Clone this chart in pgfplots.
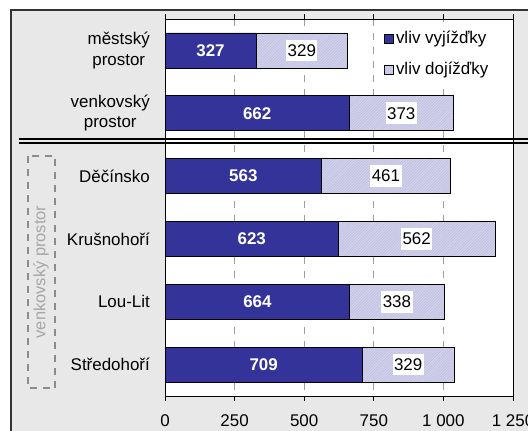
\documentclass[border=0pt]{standalone}
\usepackage{fontspec}
\setmainfont{Liberation Sans}
\usepackage{pgfplots}
\pgfplotsset{compat=1.18}
\usepackage{pgfplotstable}
\usetikzlibrary{patterns.meta}
\definecolor{barblue}{HTML}{333399}
\definecolor{hatchfill}{HTML}{D2D2EC}
\definecolor{hatchline}{HTML}{BCBCDE}
\definecolor{bggray}{HTML}{E8E8E8}
\pgfplotstableread{
y a b
0 327 329
1 662 373
2 563 461
3 623 562
4 664 338
5 709 329
}\data
\begin{document}
\fontsize{17}{20.5}\selectfont
\begin{tikzpicture}[x=1bp,y=1bp]
\path[use as bounding box] (0,0) rectangle (528,430);
\fill[white] (0,0) rectangle (528,430);
\filldraw[fill=bggray, draw=black!80, line width=2bp] (11,-20) rectangle (560,420);
\begin{axis}[
  at={(165bp,34bp)}, anchor=south west,
  scale only axis, width=348bp, height=377bp,
  xmin=0, xmax=1250, ymin=-0.5, ymax=5.5, y dir=reverse,
  xbar stacked, bar width=35bp,
  xtick={0,250,500,750,1000,1250},
  xticklabels={0,250,500,750,{1 000},{1 250}},
  xticklabel style={yshift=-8bp},
  ytick={0,...,5},
  yticklabels={{městský\\prostor},{venkovský\\prostor},Děčínsko,Krušnohoří,Lou-Lit,Středohoří},
  yticklabel style={align=center, inner sep=0pt, xshift=-10bp},
  ytick style={draw=none},
  tick align=outside, major tick length=5bp,
  xtick style={black, line width=0.8bp},
  xmajorgrids, major grid style={gray!75, line width=1bp, dash pattern=on 7bp off 7bp},
  axis line style={line width=0.8bp},
  axis background/.style={fill=white},
  tick label style={font=\fontsize{17}{20.5}\selectfont},
  /pgf/number format/assume math mode=true,
  legend style={draw=none, fill=white, at={(0.615,0.993)}, anchor=north west,
    inner xsep=5bp, inner ysep=7.5bp, row sep=12bp,
    font=\fontsize{17}{20.5}\selectfont},
  legend cell align=left,
  legend image code/.code={\draw[#1] (0bp,-4.5bp) rectangle (9bp,4.5bp);},
]
\addplot[fill=barblue, draw=black, line width=0.8bp,
  nodes near coords, point meta=explicit,
  every node near coord/.append style={anchor=center, text=white,
    font=\fontsize{17}{20.5}\selectfont\bfseries}]
  table[x=a, y=y, meta=a] {\data};
\addlegendentry{vliv vyjížďky}
\addplot[fill=hatchfill, draw=black, line width=0.8bp,
  postaction={pattern={Lines[angle=45, distance=2bp, line width=0.5bp]}, pattern color=hatchline},
  nodes near coords, point meta=explicit,
  every node near coord/.append style={anchor=center, text=black, fill=white,
    inner xsep=1.5bp, inner ysep=5bp, text height=11.8bp, text depth=0pt,
    font=\fontsize{17}{20.5}\selectfont}]
  table[x=b, y=y, meta=b] {\data};
\addlegendentry{vliv dojížďky}
\end{axis}
\draw[black, line width=1.5bp] (19,291) -- (560,291);
\draw[black, line width=1.5bp] (19,287) -- (560,287);
\draw[gray!90, line width=2bp, dash pattern=on 7bp off 6bp] (27.5,274) rectangle (55,42);
\node[rotate=90, text=gray!70, font=\fontsize{16.5}{20}\selectfont] at (41,158) {venkovský prostor};
\end{tikzpicture}
\end{document}
